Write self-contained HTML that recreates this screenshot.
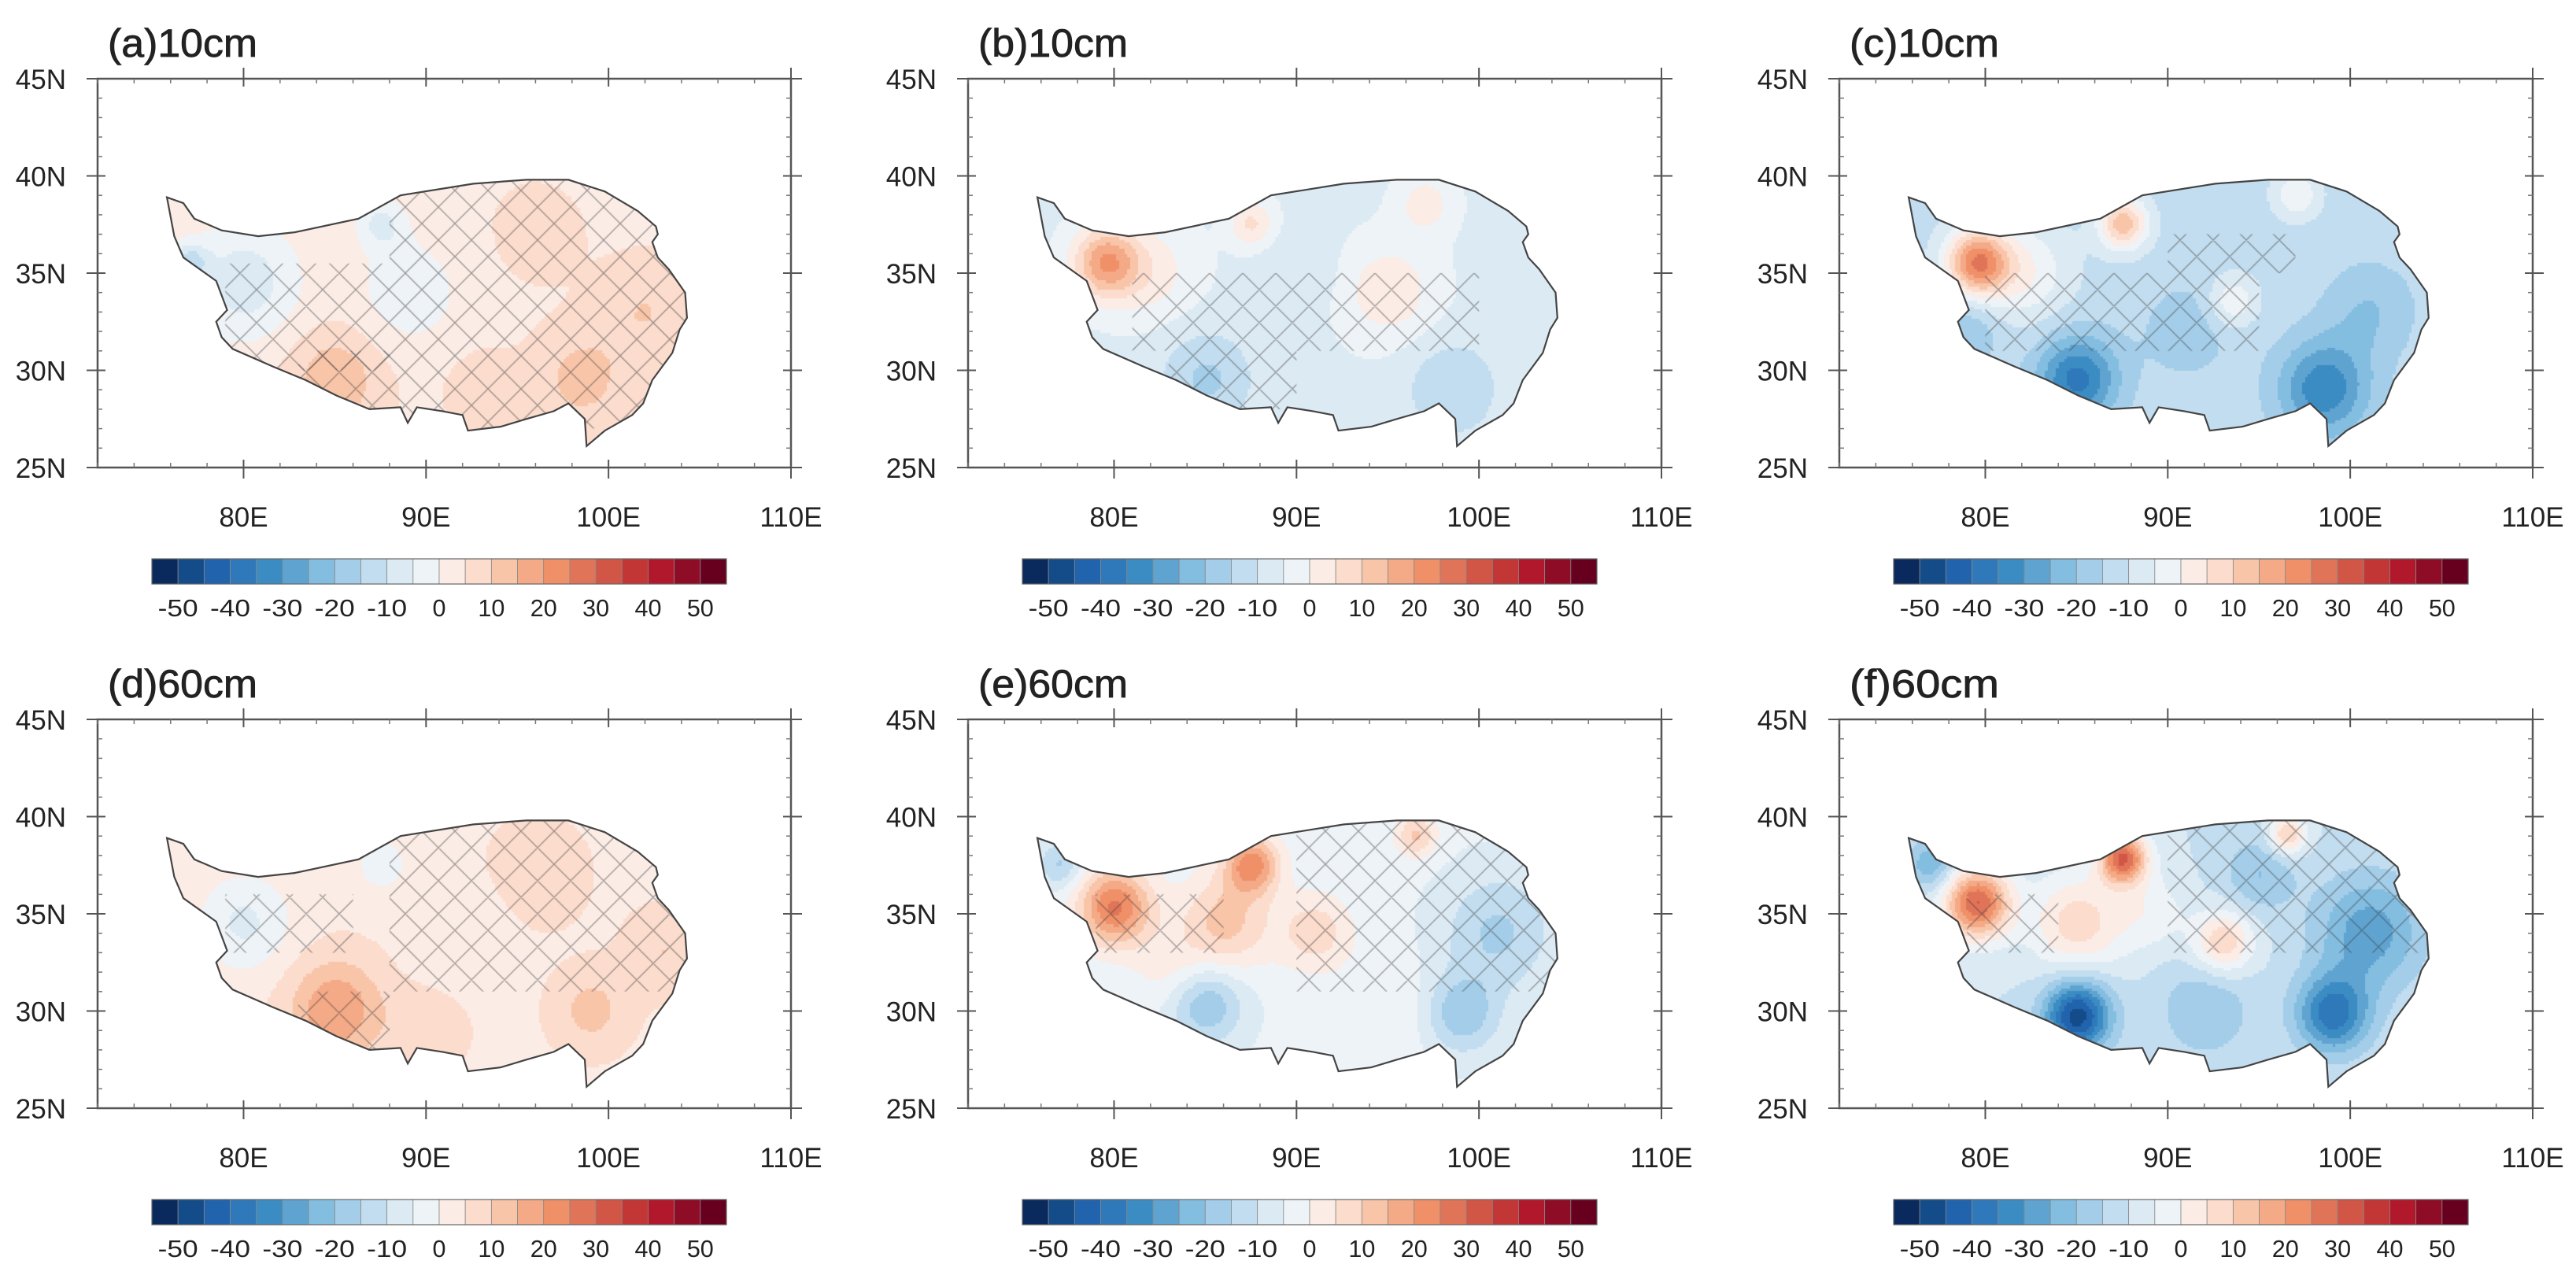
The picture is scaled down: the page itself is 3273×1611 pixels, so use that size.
<!DOCTYPE html>
<html><head><meta charset="utf-8">
<style>
html,body{margin:0;padding:0;background:#fff;}
#wrap{position:relative;width:3273px;height:1611px;overflow:hidden;}
canvas,svg{position:absolute;left:0;top:0;}
text{font-family:"Liberation Sans",sans-serif;fill:#222;}
</style></head>
<body>
<div id="wrap">
<canvas id="cv" width="3273" height="1611"></canvas>
<svg id="sv" width="3273" height="1611" xmlns="http://www.w3.org/2000/svg"></svg>
</div>
<script>
const panelTitles = ["(a)10cm","(b)10cm","(c)10cm","(d)60cm","(e)60cm","(f)60cm"];
const lonTicks = [80,90,100,110];
const lonTickLabels = ["80E","90E","100E","110E"];
const latTicks = [25,30,35,40,45];
const latTickLabels = ["25N","30N","35N","40N","45N"];
const cbLevels = [-50,-40,-30,-20,-10,0,10,20,30,40,50];
const palette = ['#0a2a5e','#144c8a','#2163ad','#2f79bb','#3c8cc4','#5fa3d0','#83bde0','#a3cde8','#c2ddef','#dceaf4','#eef3f7','#fbece6','#fbdccd','#f9c5a9','#f4a987','#ef9068','#e07459','#d15646','#c33636','#b2182b','#8e0c25','#67001f'];
const outlineLon = [75.8,76.7,77.3,78.8,80.8,82.8,86.3,88.6,92.6,95.5,97.8,99.8,101.6,102.6,102.7,102.4,102.7,103.3,104.2,104.3,103.9,103.5,102.4,101.9,101.3,99.8,98.8,98.7,97.8,97.0,95.5,94.1,92.3,92.0,90.9,89.5,89.0,88.6,86.9,85.1,83.4,81.6,79.4,78.8,78.5,79.1,78.5,76.7,76.2];
const outlineLat = [38.9,38.6,37.8,37.2,36.9,37.1,37.8,39.0,39.6,39.8,39.8,39.2,38.2,37.4,37.0,36.6,35.8,35.2,34.0,32.7,32.1,30.9,29.5,28.3,27.7,26.9,26.1,27.5,28.3,27.9,27.5,27.1,26.9,27.7,27.9,28.1,27.3,28.1,28.0,28.7,29.5,30.2,31.1,31.7,32.5,33.1,34.6,35.8,36.9];
const fieldBase = [4,-6,-12,4,-4,-10];
const blobsA = [[80,34.5,-12,3],[87.5,37.5,-10,1.3],[85,29.5,10,2.5],[98.5,29.5,8,2.5],[89,34,-7,3],[96,37,3,2.5],[102,33,6,2.5],[77,35.5,-14,1],[93,29,4,2]];
const blobsB = [[79.5,35.5,25,1.8],[87.5,37.5,12,1.2],[95,34,10,2.5],[97,38.5,9,1.5],[85,29.5,-10,2.5],[98.5,29,-9,2.5],[82,35,8,2.5],[90,35,-4,2]];
const blobsC = [[79.5,35.5,35,1.7],[87.5,37.5,26,1.3],[85,29.5,-25,2.2],[98.5,29,-22,2.5],[93.5,33.5,12,1.3],[97,39,12,1.2],[82,35,12,2.5],[79,32,-8,1.8],[101,33,-8,2.5],[91,32,-6,2.5]];
const blobsD = [[80,34.5,-10,2.5],[87.5,37.5,-8,1.3],[85,30,16,2.5],[99,30,8,2],[92,34,-4,2.5],[96,37,5,2.5],[103,33,6,2],[90,29,5,2]];
const blobsE = [[80,35.3,30,2],[87.5,37.5,26,1.5],[86,34.5,16,2.5],[91,34,12,2],[96.5,39,15,1.1],[101,34,-12,3],[85,30.3,-16,2],[99,29.8,-15,2],[77,37.5,-12,1.2],[95,30,4,2.5],[83,32,6,2]];
const blobsF = [[79.5,35.5,40,1.8],[87.5,37.8,40,1.3],[85,34.5,18,2.5],[93,33.5,20,1.6],[96.5,39,22,1],[101,34,-18,3],[85,29.7,-38,1.8],[99,29.8,-28,2],[77,37.5,-15,1.3],[92,30,-10,2.5],[95,37,-10,2],[89,35,8,2]];
const hatchA = [[88,27,105,40],[79,30,88,35.5],[83,28,88,31]];
const hatchB = [[81,31,100,35],[83,28,90,31]];
const hatchC = [[80,31,95,35],[90,35,97,37]];
const hatchD = [[88,31,105,40],[79,33,86,36],[83,28,88,31]];
const hatchE = [[90,31,105,40],[79,33,86,36]];
const hatchF = [[90,33,105,40],[79,33,84,36]];
const allBlobs=[blobsA,blobsB,blobsC,blobsD,blobsE,blobsF];
const allHatch=[hatchA,hatchB,hatchC,hatchD,hatchE,hatchF];

const PX=[124,1230,2337], PY=[100,914], W=881, H=494;
const NS="http://www.w3.org/2000/svg";
const sv=document.getElementById('sv');
const ctx=document.getElementById('cv').getContext('2d');
function el(tag,attrs,parent,txt){const e=document.createElementNS(NS,tag);for(const k in attrs)e.setAttribute(k,attrs[k]);if(txt!==undefined)e.textContent=txt;(parent||sv).appendChild(e);return e;}
function colorIdx(v){let i=Math.floor((v+55)/5);return Math.max(0,Math.min(21,i));}

for(let p=0;p<6;p++){
  const L=PX[p%3], T=PY[Math.floor(p/3)];
  const xs=lon=>L+(lon-72)/38*W, ys=lat=>T+(45-lat)/20*H;
  const g=el('g',{},sv);
  
  
  ctx.save();
  ctx.beginPath();
  outlineLon.forEach((lo,i)=>{const x=xs(lo),y=ys(outlineLat[i]);i?ctx.lineTo(x,y):ctx.moveTo(x,y);});
  ctx.closePath();ctx.clip();
  const d=0.15;
  for(let lo=75.5;lo<105;lo+=d){for(let la=25.8;la<40.2;la+=d){
    let v=fieldBase[p];
    for(const b of allBlobs[p]){const dx=lo-b[0],dy=la-b[1];v+=b[2]*Math.exp(-(dx*dx+dy*dy)/(b[3]*b[3]));}
    ctx.fillStyle=palette[colorIdx(v)];
    const x0=xs(lo),y0=ys(la+d);
    ctx.fillRect(Math.floor(x0),Math.floor(y0),Math.ceil(xs(lo+d)-x0)+1,Math.ceil(ys(la)-y0)+1);
  }}
  ctx.strokeStyle='rgba(60,60,60,0.5)';ctx.lineWidth=1.3;
  for(const r of allHatch[p]){
    ctx.save();ctx.beginPath();
    const x0=xs(r[0]),x1=xs(r[2]),y0=ys(r[3]),y1=ys(r[1]);
    ctx.rect(x0,y0,x1-x0,y1-y0);ctx.clip();
    ctx.beginPath();
    for(let k=-1200;k<1200;k+=42){
      ctx.moveTo(L+k,T);ctx.lineTo(L+k+H,T+H);
      ctx.moveTo(L+k,T+H);ctx.lineTo(L+k+H,T);
    }
    ctx.stroke();ctx.restore();
  }
  ctx.restore();
  const pts=outlineLon.map((lo,i)=>xs(lo).toFixed(1)+','+ys(outlineLat[i]).toFixed(1)).join(' ');
  const ol=el('polygon',{points:pts,fill:'none',stroke:'#444','stroke-width':2.2},g);
  
  
  const fr=el('rect',{x:L,y:T,width:W,height:H,fill:'none',stroke:'#555','stroke-width':2.5},g);
  
  
  for(let lo=72;lo<=110;lo+=2){const x=xs(lo);
    el('line',{x1:x,y1:T,x2:x,y2:T+6,stroke:'#777','stroke-width':1.5},g);
    el('line',{x1:x,y1:T+H,x2:x,y2:T+H-6,stroke:'#777','stroke-width':1.5},g);}
  for(let la=25;la<=45;la+=1){const y=ys(la);
    el('line',{x1:L,y1:y,x2:L+6,y2:y,stroke:'#777','stroke-width':1.5},g);
    el('line',{x1:L+W,y1:y,x2:L+W-6,y2:y,stroke:'#777','stroke-width':1.5},g);}
  lonTicks.forEach((lo,i)=>{const x=xs(lo);
    el('line',{x1:x,y1:T+H-10,x2:x,y2:T+H+14,stroke:'#555','stroke-width':2},g);
    el('line',{x1:x,y1:T+10,x2:x,y2:T-14,stroke:'#555','stroke-width':2},g);
    const t=el('text',{x:x,y:T+H+75,'font-size':35,'text-anchor':'middle'},g,lonTickLabels[i]);
    
    });
  latTicks.forEach((la,i)=>{const y=ys(la);
    el('line',{x1:L-14,y1:y,x2:L+10,y2:y,stroke:'#555','stroke-width':2},g);
    el('line',{x1:L+W+14,y1:y,x2:L+W-10,y2:y,stroke:'#555','stroke-width':2},g);
    const t=el('text',{x:L-40,y:y+13,'font-size':35,'text-anchor':'end'},g,latTickLabels[i]);
    
    });
  const tt=el('text',{x:L+13,y:T-28,'font-size':50,textLength:190,lengthAdjust:'spacingAndGlyphs',stroke:'#222','stroke-width':0.8},g,panelTitles[p]);
  
  
  const cb=el('g',{},g);
  
  
  const cx0=L+69,cw=730/22,cy=T+610;
  palette.forEach((c,i)=>{el('rect',{x:cx0+i*cw,y:cy,width:cw,height:32,fill:c,stroke:'#888','stroke-width':0.8},cb);});
  el('rect',{x:cx0,y:cy,width:730,height:32,fill:'none',stroke:'#666','stroke-width':1.2},cb);
  cbLevels.forEach((v,k)=>{const t=el('text',{x:cx0+(2*k+1)*cw,y:cy+73,'font-size':31,'text-anchor':'middle',textLength:String(v).length*17,lengthAdjust:'spacingAndGlyphs'},cb,String(v));
    
    });
}
</script>
</body></html>
